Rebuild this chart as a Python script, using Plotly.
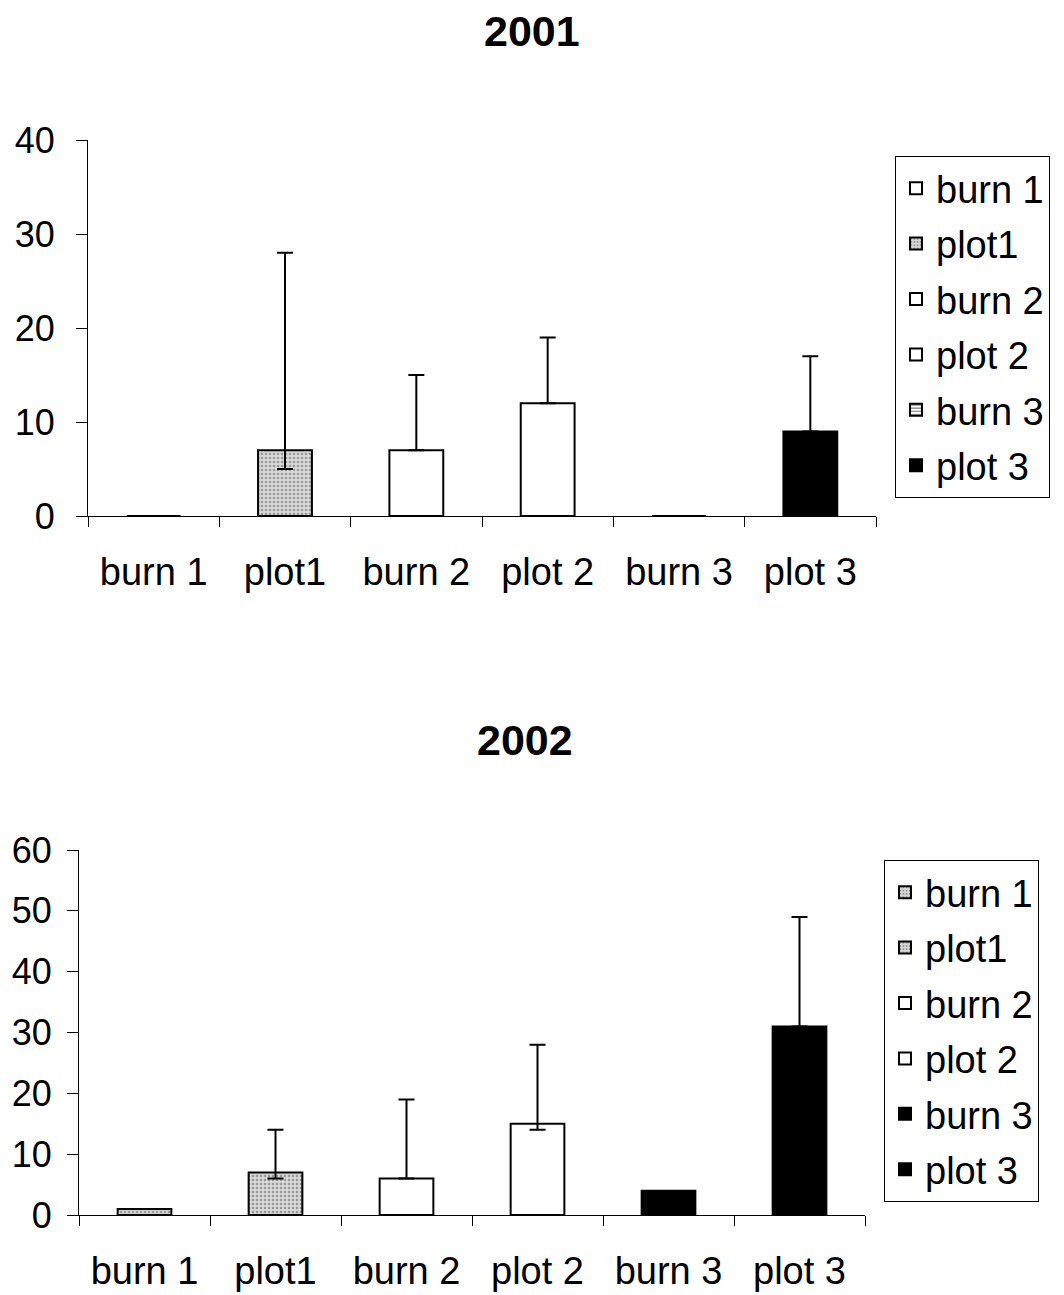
import plotly.graph_objects as go
from plotly.subplots import make_subplots

categories = ["burn 1", "plot1", "burn 2", "plot 2", "burn 3", "plot 3"]

vals_2001 = [0, 7, 7, 12, 0, 9]
err_up_2001 = [0, 21, 8, 7, 0, 8]
err_down_2001 = [0, 2, 0, 0, 0, 0]

vals_2002 = [1, 7, 6, 15, 4, 31]
err_up_2002 = [0, 7, 13, 13, 0, 18]
err_down_2002 = [0, 1, 0, 1, 0, 0]

WHITE = dict(color="white")
STIPPLE = dict(color="#d9d9d9", pattern=dict(shape=".", fgcolor="#555555", bgcolor="#d9d9d9", size=4, solidity=0.35))
HLINES = dict(color="white", pattern=dict(shape="-", fgcolor="#333333", bgcolor="white", size=4, solidity=0.5))
BLACK = dict(color="black")

fills_2001 = [WHITE, STIPPLE, WHITE, WHITE, HLINES, BLACK]
fills_2002 = [STIPPLE, STIPPLE, WHITE, WHITE, BLACK, BLACK]

FONT = "Liberation Sans, Arial, sans-serif"
FS_X = 38
FS_Y = 36
FS_LEG = 38

W, H = 1064, 1295
OFF = 8  # default body margin of the html page


def xp(px):
    return (px - OFF) / W


def yp(py):
    return 1 - (py - OFF) / H


fig = make_subplots(rows=2, cols=1)


def add_series(vals, up, down, fills, row, legend, grp):
    for i, cat in enumerate(categories):
        f = fills[i]
        marker = dict(color=f["color"], line=dict(color="black", width=2))
        if "pattern" in f:
            marker["pattern"] = f["pattern"]
        fig.add_trace(go.Bar(
            x=[cat], y=[vals[i]], name=cat, marker=marker,
            width=0.41, legend=legend, legendgroup=f"{grp}{i}",
            error_y=dict(type="data", array=[up[i]], arrayminus=[down[i]],
                         visible=(up[i] > 0), color="black", thickness=2, width=8),
        ), row=row, col=1)


add_series(vals_2001, err_up_2001, err_down_2001, fills_2001, 1, "legend", "a")
add_series(vals_2002, err_up_2002, err_down_2002, fills_2002, 2, "legend2", "b")

axis_common = dict(showline=True, linecolor="black", linewidth=1, ticks="outside",
                   tickcolor="black", showgrid=False, zeroline=False, automargin=False)

fig.update_xaxes(**axis_common, tickson="boundaries", ticklen=10, ticklabelstandoff=22,
                 tickfont=dict(family=FONT, size=FS_X, color="black"))
fig.update_yaxes(**axis_common, ticklen=11, dtick=10,
                 tickfont=dict(family=FONT, size=FS_Y, color="black"))

leg_common = dict(xanchor="left", yanchor="top", bordercolor="black", borderwidth=1,
                  bgcolor="white", tracegroupgap=3,
                  font=dict(family=FONT, size=FS_LEG, color="black"))

fig.update_layout(
    width=W, height=H,
    margin=dict(l=0, r=0, t=0, b=0),
    paper_bgcolor="white", plot_bgcolor="white",
    barmode="overlay", showlegend=True,
    font=dict(family=FONT, size=FS_X, color="black"),
    xaxis=dict(domain=[xp(88), xp(876)]),
    xaxis2=dict(domain=[xp(79), xp(865)]),
    yaxis=dict(domain=[yp(516), yp(140)], range=[0, 40], ticklabelstandoff=14),
    yaxis2=dict(domain=[yp(1215), yp(850)], range=[0, 60], ticklabelstandoff=8),
    legend=dict(x=xp(895), y=yp(156), **leg_common),
    legend2=dict(x=xp(884), y=yp(860), **leg_common),
    annotations=[
        dict(text="<b>2001</b>", x=xp(532), y=yp(31), xref="paper", yref="paper",
             showarrow=False, xanchor="center", yanchor="middle",
             font=dict(family=FONT, size=43, color="black")),
        dict(text="<b>2002</b>", x=xp(525), y=yp(740), xref="paper", yref="paper",
             showarrow=False, xanchor="center", yanchor="middle",
             font=dict(family=FONT, size=43, color="black")),
    ],
)

fig.write_html("out.html")
